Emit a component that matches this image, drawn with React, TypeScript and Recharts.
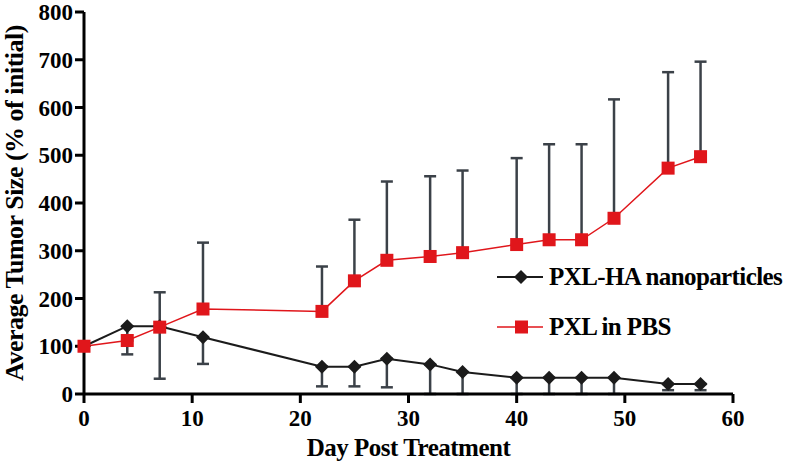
import React from "react";
import {
  LineChart,
  Line,
  XAxis,
  YAxis,
  ErrorBar,
  Label,
} from "recharts";

// --- days measured
const days = [0, 4, 7, 11, 22, 25, 28, 32, 35, 40, 43, 46, 49, 54, 57];

// --- PXL-HA nanoparticles (mean, lower error)
const haMean = [100, 142, 142, 119, 57, 57, 74, 62, 46, 34, 34, 34, 34, 21, 21];
const haLow = [0, 59, 110, 56, 41, 41, 60, 62, 46, 34, 34, 34, 34, 13, 13];

// --- PXL in PBS (mean, upper error)
const pbsMean = [100, 112, 140, 178, 173, 237, 280, 288, 296, 313, 323, 323, 368, 473, 497];
const pbsHigh = [0, 0, 73, 139, 94, 128, 165, 168, 172, 181, 200, 200, 249, 201, 199];

const xTicks = [0, 10, 20, 30, 40, 50, 60];
const yTicks = [0, 100, 200, 300, 400, 500, 600, 700, 800];

const data = days.map((d, i) => ({
  day: d,
  ha: haMean[i],
  haErr: [haLow[i], 0],
  pbs: pbsMean[i],
  pbsErr: [0, pbsHigh[i]],
}));

const FONT = "'Liberation Serif', 'Times New Roman', serif";
const RED = "#e0161b";
const BLACK = "#1b1b1b";
const BAR = "#3b4148";

const Diamond = (props: any) => {
  const { cx, cy, key } = props;
  if (cx == null || cy == null) return <g key={key} />;
  const s = 7;
  return (
    <path
      key={key}
      d={`M${cx},${cy - s}L${cx + s},${cy}L${cx},${cy + s}L${cx - s},${cy}Z`}
      fill={BLACK}
    />
  );
};

const Square = (props: any) => {
  const { cx, cy, key } = props;
  if (cx == null || cy == null) return <g key={key} />;
  const s = 6.5;
  return <rect key={key} x={cx - s} y={cy - s} width={s * 2} height={s * 2} fill={RED} />;
};

// --- legend drawn on top of the plot, right side
const LegendBox = () => (
  <div
    style={{
      position: "absolute",
      left: 497,
      top: 262,
      fontFamily: FONT,
      fontWeight: 700,
      fontSize: 25,
      letterSpacing: -0.6,
      color: "#000",
      whiteSpace: "nowrap",
    }}
  >
    <div style={{ display: "flex", alignItems: "center", height: 30 }}>
      <svg width={52} height={20}>
        <line x1={0} y1={10} x2={46} y2={10} stroke={BLACK} strokeWidth={2} />
        <path d="M24,3L31,10L24,17L17,10Z" fill={BLACK} />
      </svg>
      <span>PXL-HA nanoparticles</span>
    </div>
    <div style={{ display: "flex", alignItems: "center", height: 30, marginTop: 20 }}>
      <svg width={52} height={20}>
        <line x1={0} y1={10} x2={46} y2={10} stroke={RED} strokeWidth={1.5} />
        <rect x={18} y={3.5} width={13} height={13} fill={RED} />
      </svg>
      <span>PXL in PBS</span>
    </div>
  </div>
);

const tickStyle = { fontFamily: FONT, fontWeight: 700, fontSize: 23, fill: "#000" };

export default function App() {
  return (
    <div style={{ position: "absolute", left: 0, top: 0, width: 799, height: 463, background: "#fff" }}>
      <LineChart
        width={799}
        height={463}
        data={data}
        margin={{ top: 12, right: 66, left: 16, bottom: 9 }}
      >
        <XAxis
          dataKey="day"
          type="number"
          domain={[0, 60]}
          ticks={xTicks}
          interval={0}
          height={60}
          axisLine={{ stroke: "#000", strokeWidth: 3 }}
          tickLine={{ stroke: "#000", strokeWidth: 3 }}
          tickSize={9}
          tickMargin={7}
          tick={tickStyle}
        >
          <Label
            value="Day Post Treatment"
            position="insideBottom"
            offset={-2}
            style={{ ...tickStyle, fontSize: 25, letterSpacing: -0.5 }}
          />
        </XAxis>
        <YAxis
          type="number"
          domain={[0, 800]}
          ticks={yTicks}
          interval={0}
          width={68}
          axisLine={{ stroke: "#000", strokeWidth: 3 }}
          tickLine={{ stroke: "#000", strokeWidth: 3 }}
          tickSize={9}
          tick={tickStyle}
        >
          <Label
            value="Average Tumor Size (% of initial)"
            angle={-90}
            position="insideLeft"
            offset={-2}
            style={{ ...tickStyle, fontSize: 26, letterSpacing: -0.5, textAnchor: "middle" }}
          />
        </YAxis>
        <Line
          dataKey="ha"
          stroke={BLACK}
          strokeWidth={2}
          dot={Diamond}
          activeDot={false}
          isAnimationActive={false}
        >
          <ErrorBar dataKey="haErr" direction="y" width={6} stroke={BAR} strokeWidth={2.5} />
        </Line>
        <Line
          dataKey="pbs"
          stroke={RED}
          strokeWidth={1.5}
          dot={Square}
          activeDot={false}
          isAnimationActive={false}
        >
          <ErrorBar dataKey="pbsErr" direction="y" width={6} stroke={BAR} strokeWidth={2.5} />
        </Line>
      </LineChart>
      <LegendBox />
    </div>
  );
}
